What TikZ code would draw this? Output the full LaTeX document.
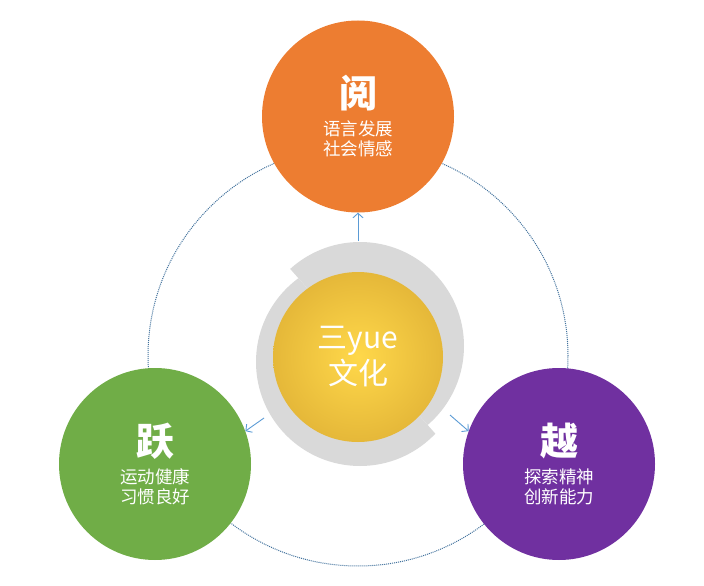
\documentclass[tikz,border=0pt]{standalone}
\usepackage{fontspec}
\setmainfont{Noto Sans CJK SC}
\usetikzlibrary{arrows.meta}
\definecolor{readorange}{HTML}{ED7D31}
\definecolor{leapgreen}{HTML}{70AD47}
\definecolor{crosspurple}{HTML}{7030A0}
\definecolor{ringgray}{HTML}{D9D9D9}
\definecolor{linkblue}{HTML}{5B9BD5}
\definecolor{orbitblue}{HTML}{41719C}
\definecolor{coreinner}{HTML}{FFD84A}
\definecolor{coremid}{HTML}{E2B437}
\definecolor{coreouter}{HTML}{B08828}
\pgfdeclareradialshading{coreglow}{\pgfpoint{0bp}{0bp}}{color(0bp)=(coreinner); color(28bp)=(coremid); color(50bp)=(coreouter)}
\begin{document}
\begin{tikzpicture}[x=1pt,y=-1pt,
	ball/.style={circle,minimum size=192pt,inner sep=0pt},
	head/.style={text=white,font=\fontsize{38}{40}\selectfont\bfseries},
	desc/.style={text=white,align=center,font=\fontsize{17.5}{20}\selectfont},
	link/.style={linkblue,line width=0.9pt,-{Straight Barb[length=4.5pt,width=10pt]}},
	orbit/.style={orbitblue,line width=1pt,dash pattern=on 1pt off 1pt}]
\useasboundingbox (0,0) rectangle (704,586);
\draw[orbit] (358,356) circle[radius=210pt];
\begin{scope}
	\clip (19,-39) -- (706,741) -- (800,-100) -- cycle;
	\fill[ringgray] (360,346) circle[radius=104pt];
\end{scope}
\begin{scope}
	\clip (19,-39) -- (706,741) -- (-100,800) -- cycle;
	\fill[ringgray] (360,362) circle[radius=104pt];
\end{scope}
\node[circle,minimum size=170pt,inner sep=0pt,shading=coreglow,text=white,align=center,
	font=\fontsize{30}{36}\selectfont] (core) at (358,357) {三yue\\文化};
\node[ball,fill=readorange] (read) at (358,116.5) {};
\node[ball,fill=leapgreen] (leap) at (155,464) {};
\node[ball,fill=crosspurple] (cross) at (559,464) {};
\node[head] (readHead) at ([yshift=23.5pt]read.center) {阅};
\node[desc] (readDesc) at ([yshift=-22.5pt]read.center) {语言发展\\社会情感};
\node[head] (leapHead) at ([yshift=22.5pt]leap.center) {跃};
\node[desc] (leapDesc) at ([yshift=-23pt]leap.center) {运动健康\\习惯良好};
\node[head] (crossHead) at ([yshift=22.5pt]cross.center) {越};
\node[desc] (crossDesc) at ([yshift=-23pt]cross.center) {探索精神\\创新能力};
\coordinate (ringN) at (358,241);
\coordinate (ringW) at (264,418);
\coordinate (ringE) at (450,415);
\draw[link] (ringN) -- (read.south);
\draw[link] (ringW) -- (leap.20);
\draw[link] (ringE) -- (cross.160);
\end{tikzpicture}
\end{document}
